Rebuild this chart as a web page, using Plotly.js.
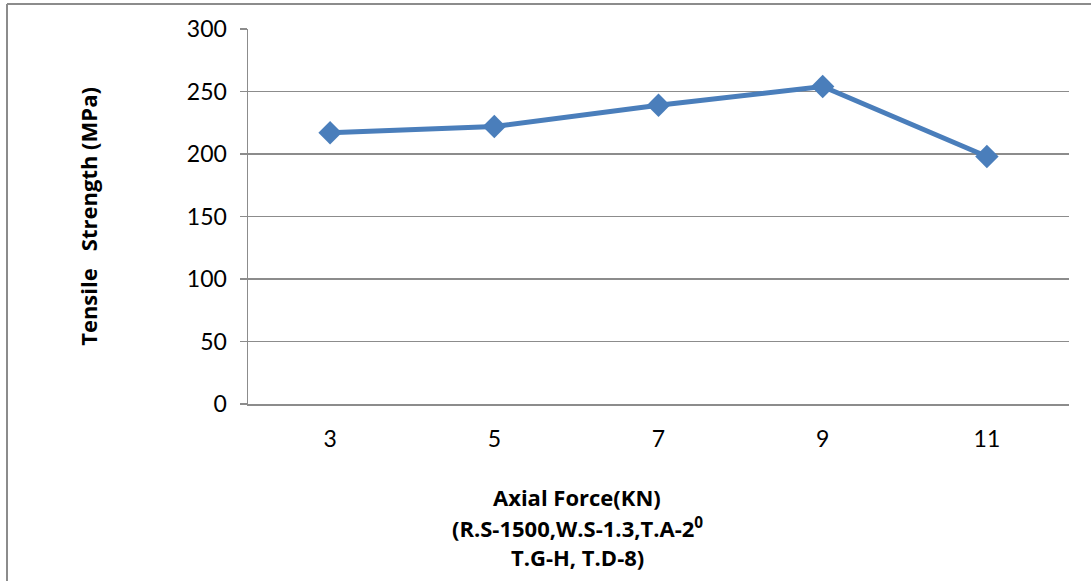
<!DOCTYPE html>
<html>
<head>
<meta charset="utf-8">
<script src="https://cdn.plot.ly/plotly-3.0.1.min.js"></script>
<style>html,body{margin:0;padding:0;background:#fff;}#chart{width:1091px;height:581px;}</style>
</head>
<body>
<div id="chart"></div>
<script>
const categories = ["3", "5", "7", "9", "11"];
const tensileStrength = [217, 222, 239, 254, 198];
const yTickValues = [0, 50, 100, 150, 200, 250, 300];
const xTitleLines = ["Axial Force(KN)", "(R.S-1500,W.S-1.3,T.A-2<sup>0</sup>", "T.G-H, T.D-8)"];
const yTitle = "Tensile&nbsp;&nbsp; Strength (MPa)";

const L = 248, R = 1069, T = 29, B = 404;
const W = 1091, H = 581;
const px2x = x => (x - L) / (R - L);
const px2y = y => (B - y) / (B - T);

const trace = {
  type: 'scatter',
  mode: 'lines+markers',
  x: categories,
  y: tensileStrength,
  line: {color: '#4A7EBB', width: 5},
  marker: {symbol: 'diamond', size: 18, color: '#4A7EBB'},
  showlegend: false,
  cliponaxis: false
};

const titleFont = {family: '"Open Sans", sans-serif', size: 22, color: '#000'};
const tickFont = {family: 'Lato, sans-serif', size: 23, color: '#000'};

const titleYs = [497, 527, 557];
const annotations = xTitleLines.map((t, i) => ({
  text: '<b>' + t + '</b>',
  xref: 'paper', yref: 'paper',
  x: px2x(577), y: px2y(titleYs[i]),
  xanchor: 'center', yanchor: 'middle',
  showarrow: false,
  font: titleFont
}));

const layout = {
  width: W, height: H,
  margin: {l: L, r: W - R, t: T, b: H - B, pad: 0},
  paper_bgcolor: '#fff', plot_bgcolor: '#fff',
  font: {family: 'Lato, sans-serif', color: '#000'},
  xaxis: {
    type: 'category',
    range: [-0.5, 4.5],
    showgrid: false,
    showline: true, linecolor: '#8C8C8C', linewidth: 1.5,
    ticks: '',
    tickfont: tickFont,
    ticklabelstandoff: 14,
    zeroline: false
  },
  yaxis: {
    range: [0, 300],
    tickvals: yTickValues,
    showgrid: true, gridcolor: '#8C8C8C', gridwidth: 1.5,
    showline: true, linecolor: '#8C8C8C', linewidth: 1.5,
    ticks: 'outside', ticklen: 7, tickcolor: '#8C8C8C', tickwidth: 1.5,
    tickfont: tickFont,
    ticklabelstandoff: 8,
    zeroline: false,
    title: {text: '<b>' + yTitle + '</b>', font: titleFont, standoff: 83}
  },
  annotations: annotations,
  shapes: [
    {type: 'line', xref: 'paper', yref: 'paper', x0: px2x(7), x1: px2x(1095), y0: px2y(4), y1: px2y(4), line: {color: '#8C8C8C', width: 2}},
    {type: 'line', xref: 'paper', yref: 'paper', x0: px2x(7), x1: px2x(7), y0: px2y(4), y1: px2y(590), line: {color: '#8C8C8C', width: 2}}
  ]
};

Plotly.newPlot('chart', [trace], layout, {displayModeBar: false, staticPlot: true});
</script>
</body>
</html>
